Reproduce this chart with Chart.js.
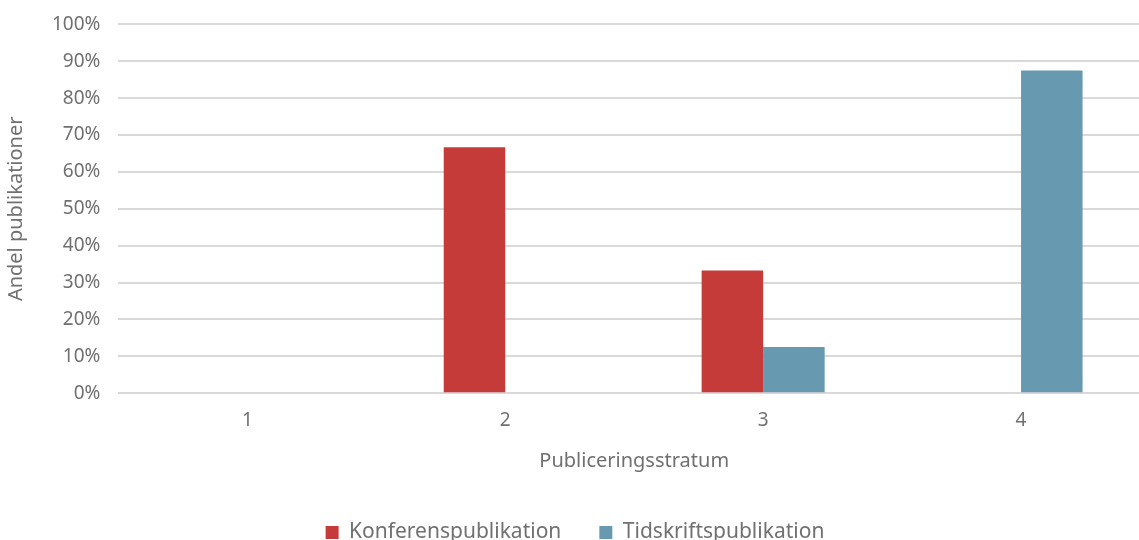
<!DOCTYPE html>
<html>
<head>
<meta charset="utf-8">
<script src="https://cdn.jsdelivr.net/npm/chart.js@4"></script>
<style>
  html, body { margin: 0; padding: 0; background: #fff; overflow: hidden; }
  #wrap { width: 1150px; height: 558px; margin-top: -5px; position: relative; }
</style>
</head>
<body>
<div id="wrap"><canvas id="chart"></canvas></div>
<script>
// Andel publikationer per publiceringsstratum
const categories = ['1', '2', '3', '4'];
const konferens = [0, 66.7, 33.3, 0];
const tidskrift = [0, 0, 12.5, 87.5];

const FONT = '"Noto Sans", sans-serif';
const textColor = '#707070';

new Chart(document.getElementById('chart'), {
  type: 'bar',
  data: {
    labels: categories,
    datasets: [
      { label: 'Konferenspublikation', data: konferens, backgroundColor: '#C53B3A' },
      { label: 'Tidskriftspublikation', data: tidskrift, backgroundColor: '#6799B0' }
    ]
  },
  options: {
    responsive: true,
    maintainAspectRatio: false,
    animation: false,
    categoryPercentage: 0.477,
    barPercentage: 1,
    layout: { padding: { left: 0, top: 0, right: 0, bottom: 0 } },
    plugins: {
      tooltip: { enabled: false },
      legend: {
        position: 'bottom',
        labels: {
          color: textColor,
          font: { family: FONT, size: 21 },
          boxWidth: 13,
          boxHeight: 13,
          padding: 38
        }
      }
    },
    scales: {
      x: {
        grid: { display: false },
        border: { display: false },
        ticks: { color: textColor, font: { family: FONT, size: 19 }, padding: 8 },
        title: {
          display: true,
          text: 'Publiceringsstratum',
          color: textColor,
          font: { family: FONT, size: 20 },
          padding: { top: 9, bottom: 11 }
        }
      },
      y: {
        min: 0,
        max: 100,
        border: { display: false },
        grid: { color: '#D9D9D9', lineWidth: 2, drawTicks: false },
        ticks: {
          stepSize: 10,
          color: textColor,
          font: { family: FONT, size: 19 },
          padding: 18,
          callback: v => v + '%'
        },
        title: {
          display: true,
          text: 'Andel publikationer',
          color: textColor,
          font: { family: FONT, size: 20 },
          padding: { bottom: 6 }
        }
      }
    }
  }
});
</script>
</body>
</html>
